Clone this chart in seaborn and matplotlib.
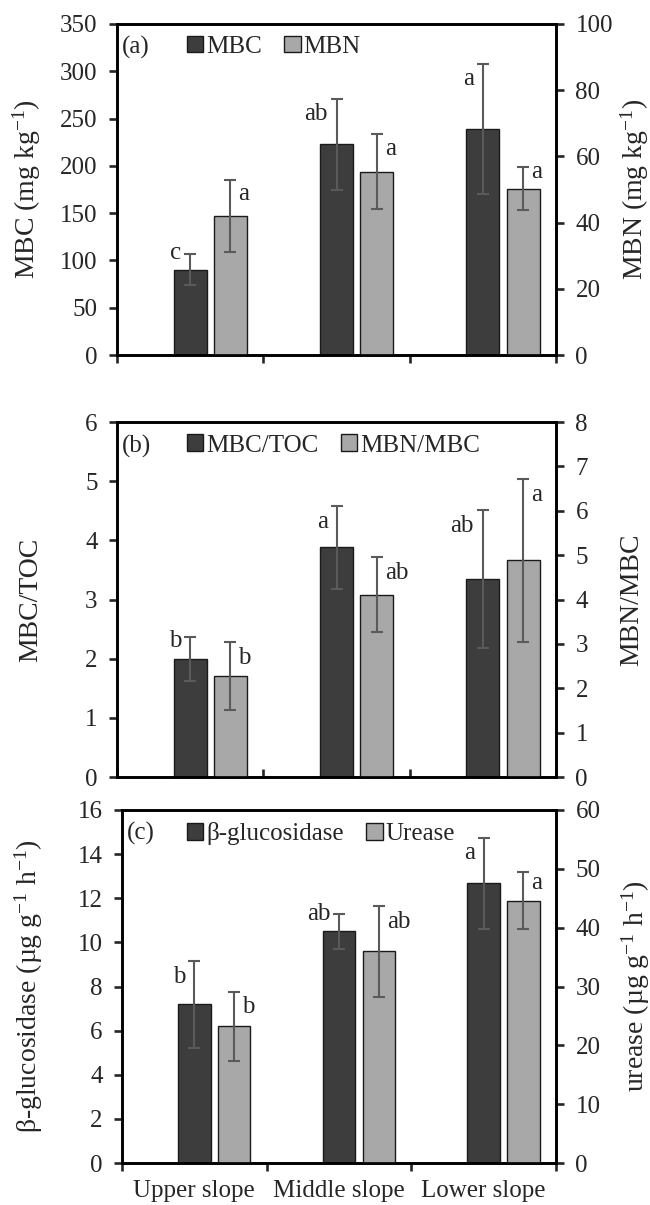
import numpy as np
import pandas as pd
import matplotlib
matplotlib.use('Agg')
import matplotlib.pyplot as plt
import seaborn as sns
from matplotlib.patches import Patch

# ---------------- data ----------------
slopes = ['Upper slope', 'Middle slope', 'Lower slope']

mbc = [90, 223, 239]
mbc_err = [16.5, 48, 69]
mbn = [42.0, 55.4, 50.3]
mbn_err = [11.0, 11.3, 6.4]
mbc_letters = ['c', 'ab', 'a']
mbn_letters = ['a', 'a', 'a']

mbc_toc = [2.0, 3.88, 3.35]
mbc_toc_err = [0.37, 0.70, 1.17]
mbn_mbc = [2.27, 4.11, 4.88]
mbn_mbc_err = [0.77, 0.85, 1.83]
mbc_toc_letters = ['b', 'a', 'ab']
mbn_mbc_letters = ['b', 'ab', 'a']

gluc = [7.2, 10.5, 12.68]
gluc_err = [1.97, 0.80, 2.07]
urease = [23.25, 36.0, 44.6]
urease_err = [5.9, 7.7, 4.8]
gluc_letters = ['b', 'ab', 'a']
urease_letters = ['b', 'ab', 'a']

# ---------------- style ----------------
sns.set_theme(style='ticks')
plt.rcParams['font.family'] = ['Liberation Serif', 'DejaVu Serif']
plt.rcParams['mathtext.fontset'] = 'custom'
plt.rcParams['mathtext.rm'] = 'Liberation Serif'
plt.rcParams['mathtext.it'] = 'Liberation Serif:italic'
plt.rcParams['axes.unicode_minus'] = True

DARK = '#3d3d3d'
LIGHT = '#a8a8a8'
EDGE = '#1a1a1a'
ERR = '#5a5a5a'
FS = 18
FSL = 20

fig = plt.figure(figsize=(6.5, 12.05), dpi=100)
W, H = 650, 1205


def rect(l, r, t, b):
    return [l / W, 1 - b / H, (r - l) / W, (b - t) / H]


def letter_y(val, err, ymax):
    # just below the error-bar cap, but never down on the bar itself
    return max(val + err - 0.045 * ymax, val + 0.05 * ymax)


def panel(rc, tag, left, lerr, right, rerr, llet, rlet, lmax, lstep, rmax, rstep,
          lname, rname, ylab_l, ylab_r, xdir, show_x, lx, rx, legx):
    ax = fig.add_axes(rc)
    ax2 = ax.twinx()
    n = len(slopes)
    pos_d = np.arange(n, dtype=float)
    pos_l = pos_d + 0.275
    df_d = pd.DataFrame({'x': pos_d, 'y': left})
    df_l = pd.DataFrame({'x': pos_l, 'y': right})
    sns.barplot(data=df_d, x='x', y='y', native_scale=True, width=0.225, color=DARK,
                saturation=1, edgecolor=EDGE, linewidth=1.0, errorbar=None, ax=ax)
    sns.barplot(data=df_l, x='x', y='y', native_scale=True, width=0.225, color=LIGHT,
                saturation=1, edgecolor=EDGE, linewidth=1.0, errorbar=None, ax=ax2)
    ax.errorbar(pos_d, left, yerr=lerr, fmt='none', ecolor=ERR, elinewidth=1.5,
                capsize=4.5, capthick=1.5, zorder=5)
    ax2.errorbar(pos_l, right, yerr=rerr, fmt='none', ecolor=ERR, elinewidth=1.5,
                 capsize=4.5, capthick=1.5, zorder=5)

    ax.set_ylim(0, lmax)
    ax2.set_ylim(0, rmax)
    ax.set_yticks(np.arange(0, lmax + lstep / 2, lstep))
    ax2.set_yticks(np.arange(0, rmax + rstep / 2, rstep))
    for a in (ax, ax2):
        a.set_xlim(-0.5, n - 0.5)
        a.set_xticks(np.arange(n + 1) - 0.5)
        a.set_xticklabels([])
        a.set_xlabel('')
        for s in a.spines.values():
            s.set_linewidth(1.9)
            s.set_color('black')
            s.set_visible(True)
    ax.set_xticks(np.arange(n), minor=True)
    if show_x:
        ax.set_xticklabels(slopes, minor=True)
    ax.tick_params(axis='x', which='minor', length=0, labelsize=FS, pad=12)
    ax.tick_params(axis='x', which='major', direction=xdir, length=6, width=1.9)
    ax2.tick_params(axis='x', which='both', length=0)
    ax.tick_params(axis='y', direction='out', length=6, width=1.9, labelsize=FS, pad=8)
    ax2.tick_params(axis='y', direction='out', length=6, width=1.9, labelsize=FS, pad=8)

    ax.set_ylabel(ylab_l, fontsize=FSL)
    ax2.set_ylabel(ylab_r, fontsize=FSL)
    ax.yaxis.set_label_coords(lx, 0.5)
    ax2.yaxis.set_label_coords(rx, 0.5)

    # significance letters, set beside the top of each error bar
    for i in range(n):
        ax.text(pos_d[i] - 0.06, letter_y(left[i], lerr[i], lmax), llet[i],
                ha='right', va='center', fontsize=FS, zorder=6)
        ax2.text(pos_l[i] + 0.055, letter_y(right[i], rerr[i], rmax), rlet[i],
                 ha='left', va='center', fontsize=FS, zorder=6)

    ax.text(0.012, 0.965, tag, transform=ax.transAxes, ha='left', va='top', fontsize=FS)
    handles = [Patch(facecolor=DARK, edgecolor=EDGE, linewidth=1.0),
               Patch(facecolor=LIGHT, edgecolor=EDGE, linewidth=1.0)]
    ax2.legend(handles, [lname, rname], loc='upper left', bbox_to_anchor=(legx, 0.965),
               ncol=2, frameon=False, fontsize=FS, handlelength=0.65, handleheight=0.65,
               handletextpad=0.12, columnspacing=0.9, borderaxespad=0, borderpad=0)
    return ax, ax2


panel(rect(117, 556, 24, 355), '(a)', mbc, mbc_err, mbn, mbn_err, mbc_letters, mbn_letters,
      350, 50, 100, 20, 'MBC', 'MBN',
      r'MBC (mg kg$^{\mathregular{-1}}$)', r'MBN (mg kg$^{\mathregular{-1}}$)',
      'out', False, -0.169, 1.143, 0.159)

panel(rect(117, 556, 422, 777), '(b)', mbc_toc, mbc_toc_err, mbn_mbc, mbn_mbc_err,
      mbc_toc_letters, mbn_mbc_letters, 6, 1, 8, 1, 'MBC/TOC', 'MBN/MBC',
      'MBC/TOC', 'MBN/MBC', 'in', False, -0.169, 1.143, 0.159)

panel(rect(122, 556, 810, 1163), '(c)', gluc, gluc_err, urease, urease_err,
      gluc_letters, urease_letters, 16, 2, 60, 10, 'β-glucosidase', 'Urease',
      r'β-glucosidase (µg g$^{\mathregular{-1}}$ h$^{\mathregular{-1}}$)',
      r'urease (µg g$^{\mathregular{-1}}$ h$^{\mathregular{-1}}$)',
      'out', True, -0.177, 1.147, 0.150)

fig.savefig('out.png', dpi=100)
